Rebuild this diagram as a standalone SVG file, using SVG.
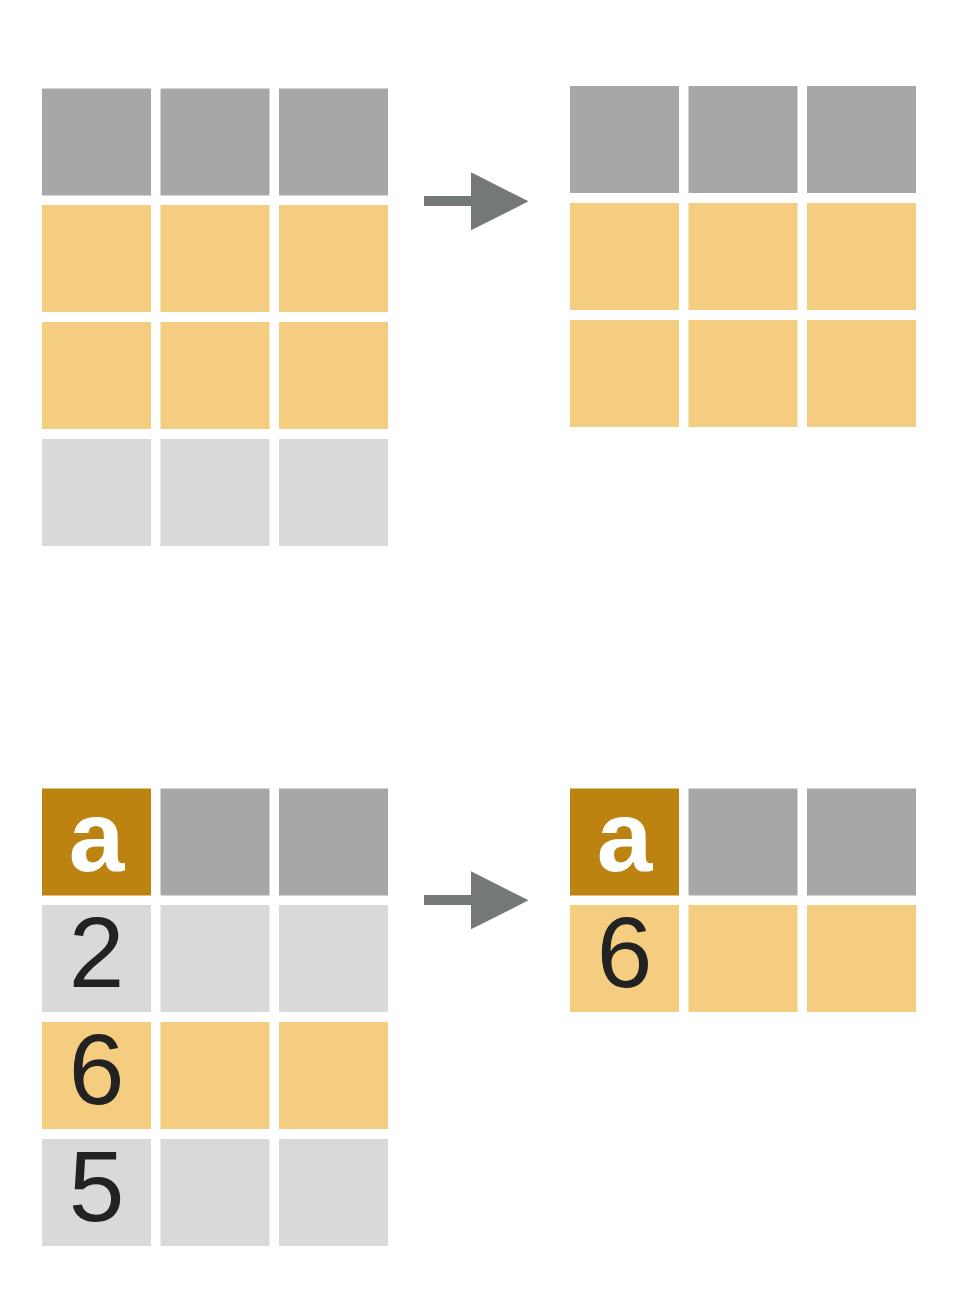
<svg xmlns="http://www.w3.org/2000/svg" width="966" height="1291" viewBox="0 0 966 1291">
<style>
.c{stroke:none}
.dg{fill:#A5A8A6}
.lg{fill:#D9D9D9}
.y{fill:#F4CD80}
.gd{fill:#BD8311}
.ar{fill:#747877}
.t{font-family:"Liberation Sans",Arial,sans-serif;font-size:100px;text-anchor:middle}
.tw{fill:#FFFFFF;font-weight:bold}
.tk{fill:#222222}
</style>
<defs>
<rect id="cell" width="109" height="107"/>
</defs>
<rect width="966" height="1291" fill="#FFFFFF"/>
<g id="top-left-table">
<use href="#cell" x="42" y="88.5" class="dg"/><use href="#cell" x="160.5" y="88.5" class="dg"/><use href="#cell" x="279" y="88.5" class="dg"/>
<use href="#cell" x="42" y="205" class="y"/><use href="#cell" x="160.5" y="205" class="y"/><use href="#cell" x="279" y="205" class="y"/>
<use href="#cell" x="42" y="322" class="y"/><use href="#cell" x="160.5" y="322" class="y"/><use href="#cell" x="279" y="322" class="y"/>
<use href="#cell" x="42" y="439" class="lg"/><use href="#cell" x="160.5" y="439" class="lg"/><use href="#cell" x="279" y="439" class="lg"/>
</g>
<g id="top-right-table">
<use href="#cell" x="570" y="86" class="dg"/><use href="#cell" x="688.5" y="86" class="dg"/><use href="#cell" x="807" y="86" class="dg"/>
<use href="#cell" x="570" y="203" class="y"/><use href="#cell" x="688.5" y="203" class="y"/><use href="#cell" x="807" y="203" class="y"/>
<use href="#cell" x="570" y="320" class="y"/><use href="#cell" x="688.5" y="320" class="y"/><use href="#cell" x="807" y="320" class="y"/>
</g>
<g id="bottom-left-table">
<use href="#cell" x="42" y="788.5" class="gd"/><use href="#cell" x="160.5" y="788.5" class="dg"/><use href="#cell" x="279" y="788.5" class="dg"/>
<use href="#cell" x="42" y="905" class="lg"/><use href="#cell" x="160.5" y="905" class="lg"/><use href="#cell" x="279" y="905" class="lg"/>
<use href="#cell" x="42" y="1022" class="y"/><use href="#cell" x="160.5" y="1022" class="y"/><use href="#cell" x="279" y="1022" class="y"/>
<use href="#cell" x="42" y="1139" class="lg"/><use href="#cell" x="160.5" y="1139" class="lg"/><use href="#cell" x="279" y="1139" class="lg"/>
<text class="t tw" x="96.5" y="871">a</text>
<text class="t tk" x="96.5" y="987">2</text>
<text class="t tk" x="96.5" y="1104">6</text>
<text class="t tk" x="96.5" y="1221">5</text>
</g>
<g id="bottom-right-table">
<use href="#cell" x="570" y="788.5" class="gd"/><use href="#cell" x="688.5" y="788.5" class="dg"/><use href="#cell" x="807" y="788.5" class="dg"/>
<use href="#cell" x="570" y="905" class="y"/><use href="#cell" x="688.5" y="905" class="y"/><use href="#cell" x="807" y="905" class="y"/>
<text class="t tw" x="624.5" y="871">a</text>
<text class="t tk" x="624.5" y="987">6</text>
</g>
<g id="connectors">
<path class="ar" d="M424 196 H471 V172.3 L528.5 201.3 L471 230.3 V206 H424 Z"/>
<path class="ar" d="M424 895 H471 V871.3 L528.5 900.3 L471 929.3 V905 H424 Z"/>
</g>
</svg>
